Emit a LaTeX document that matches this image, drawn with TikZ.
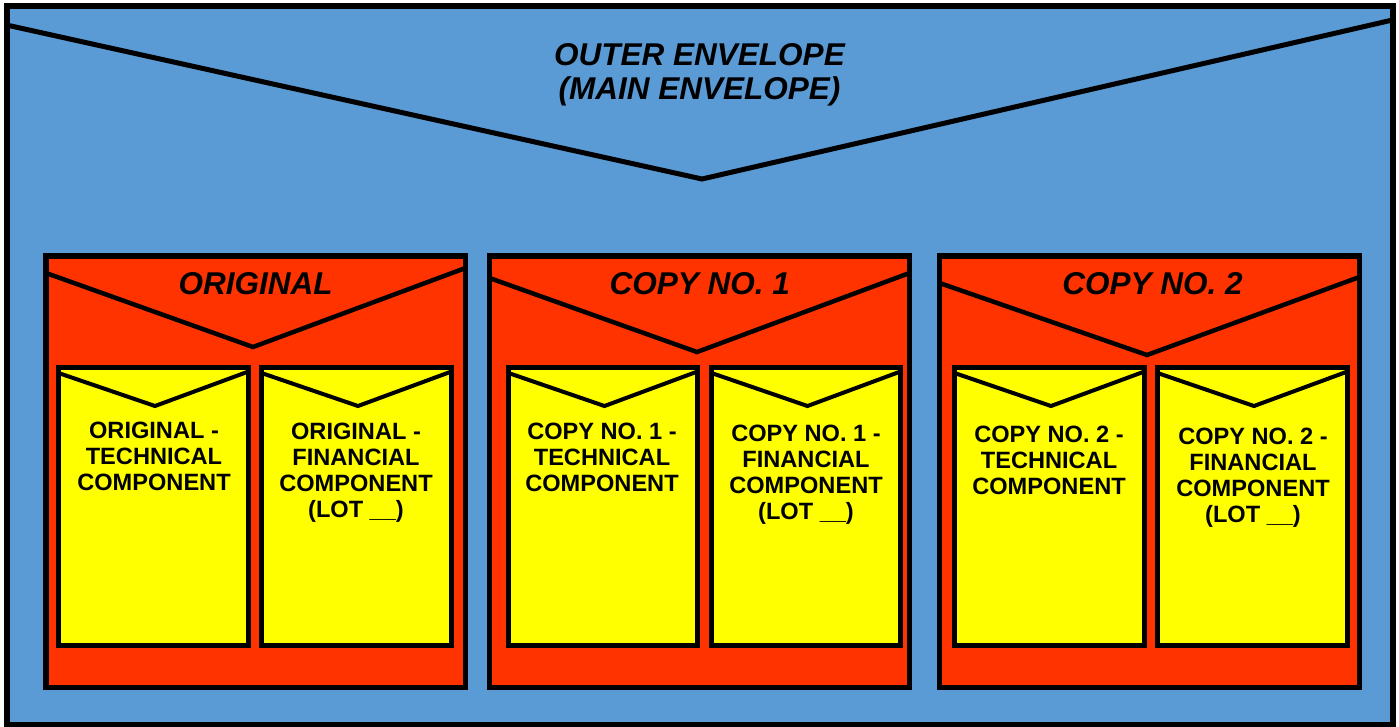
\documentclass[tikz,border=0pt]{standalone}
\usepackage{fontspec}
\setmainfont{Liberation Sans}
\usetikzlibrary{calc}
\definecolor{envblue}{RGB}{91,155,213}
\definecolor{envred}{RGB}{255,51,0}
\definecolor{envyellow}{RGB}{255,255,0}
\begin{document}
\begin{tikzpicture}[x=1pt,y=-1pt,
  box/.style={draw=black,inner sep=0pt,outer sep=0pt},
  outerbox/.style={box,fill=envblue,line width=6pt},
  redbox/.style={box,fill=envred,line width=5.5pt,minimum height=431.5pt},
  yellowbox/.style={box,fill=envyellow,line width=5pt,minimum height=278pt},
  bigflap/.style={draw=black,line width=5pt},
  redflap/.style={draw=black,line width=4.5pt},
  yellowflap/.style={draw=black,line width=4pt},
  titletext/.style={inner sep=0pt,anchor=north,align=center,font=\fontsize{31.5}{34.5}\selectfont\bfseries\itshape},
  comptext/.style={inner sep=0pt,anchor=north,align=center,font=\fontsize{23.6}{26}\selectfont\bfseries}]
\useasboundingbox (0,0) rectangle (1399,726);
\fill[white] (0,0) rectangle (1399,726);
% outer envelope
\node[outerbox,minimum width=1386pt,minimum height=719pt] (outer) at (699.5,365.5) {};
\draw[bigflap] ($(outer.north west)+(0,19)$) -- (702,179) -- ($(outer.north east)+(0,14)$);
\node[titletext] (outertitle) at (699.5,43) {OUTER ENVELOPE\\(MAIN ENVELOPE)};
% red envelopes
\node[redbox,minimum width=419.5pt] (r1) at (255.75,471.75) {};
\node[redbox,minimum width=420pt] (r2) at (699.5,471.75) {};
\node[redbox,minimum width=420pt] (r3) at (1149.5,471.75) {};
\draw[redflap] ($(r1.north west)+(0,17)$) -- (253,347) -- ($(r1.north east)+(0,12)$);
\draw[redflap] ($(r2.north west)+(0,22)$) -- (697,352) -- ($(r2.north east)+(0,17)$);
\draw[redflap] ($(r3.north west)+(0,27)$) -- (1147,355) -- ($(r3.north east)+(0,21)$);
\node[titletext] (t1) at (255.5,272) {ORIGINAL};
\node[titletext] (t2) at (699.7,272) {COPY NO. 1};
\node[titletext] (t3) at (1152.5,272) {COPY NO. 2};
% yellow envelopes
\node[yellowbox,minimum width=190pt] (y1a) at (153.5,506.5) {};
\node[yellowbox,minimum width=190pt] (y1b) at (356.5,506.5) {};
\node[yellowbox,minimum width=189pt] (y2a) at (603,506.5) {};
\node[yellowbox,minimum width=189pt] (y2b) at (806,506.5) {};
\node[yellowbox,minimum width=190pt] (y3a) at (1049.5,506.5) {};
\node[yellowbox,minimum width=190pt] (y3b) at (1252.5,506.5) {};
\foreach \b in {y1a,y1b,y2a,y2b,y3a,y3b}{
  \draw[yellowflap] ($(\b.north west)+(0,5.5)$) -- ($(\b.north)+(1.5,38.5)$) -- ($(\b.north east)+(0,4)$);
}
\node[comptext] (c1a) at (154,422) {ORIGINAL -\\TECHNICAL\\COMPONENT};
\node[comptext] (c1b) at (356,423) {ORIGINAL -\\FINANCIAL\\COMPONENT\\(LOT \_\_)};
\node[comptext] (c2a) at (602,423) {COPY NO. 1 -\\TECHNICAL\\COMPONENT};
\node[comptext] (c2b) at (806,425) {COPY NO. 1 -\\FINANCIAL\\COMPONENT\\(LOT \_\_)};
\node[comptext] (c3a) at (1049,426) {COPY NO. 2 -\\TECHNICAL\\COMPONENT};
\node[comptext] (c3b) at (1253,428) {COPY NO. 2 -\\FINANCIAL\\COMPONENT\\(LOT \_\_)};
\end{tikzpicture}
\end{document}
